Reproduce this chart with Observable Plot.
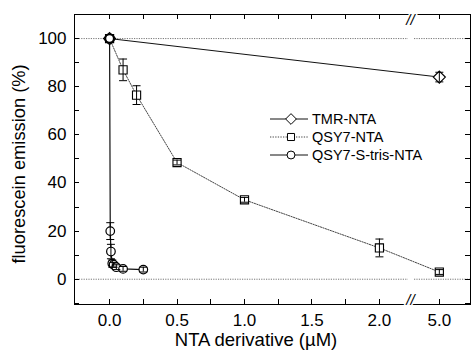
<!DOCTYPE html>
<html>
<head>
<meta charset="utf-8">
<script src="https://cdn.jsdelivr.net/npm/d3@7"></script>
<script src="https://cdn.jsdelivr.net/npm/@observablehq/plot@0.6"></script>
<style>
  html, body { margin: 0; padding: 0; background: #fff; }
  #chart { position: relative; width: 471px; height: 352px; }
  #chart svg { font-family: "Liberation Sans", Arial, sans-serif; }
</style>
</head>
<body>
<div id="chart"></div>
<script>
// ---- data ----
const seriesNames = ["TMR-NTA", "QSY7-NTA", "QSY7-S-tris-NTA"];

const tmrX = [0, 5.0];
const tmrY = [100, 84];
const tmrErr = [0, 2];

const qsyX = [0, 0.1, 0.2, 0.5, 1.0, 2.0, 5.0];
const qsyY = [100, 87, 76.5, 48.5, 33, 13, 3];
const qsyErr = [0, 4.5, 3.9, 1, 1, 3.7, 1];

const trisX = [0, 0.005, 0.01, 0.02, 0.03, 0.05, 0.1, 0.25];
const trisY = [100, 20, 11.5, 6.5, 6, 5, 4.3, 4];
const trisErr = [0, 3.5, 3, 1.5, 1, 1, 1, 1];

const xTickValues = [0, 0.5, 1.0, 1.5, 2.0, 5.0];
const xMinorTicks = [0, 0.25, 0.5, 0.75, 1.0, 1.25, 1.5, 1.75, 2.0, 5.0];
const yTickValues = [0, 20, 40, 60, 80, 100];
const yMinorTicks = [-10, 0, 10, 20, 30, 40, 50, 60, 70, 80, 90, 100];
const refLines = [0, 100];

// broken x axis: values above the break are shifted next to 2.0
const breakAt = 2.23;
const brk = v => v > 3 ? v - 5 + 2.444 : v;
const unbrk = v => v > breakAt ? v - 2.444 + 5 : v;

const mk = (xs, ys, es, name) => xs.map((x, i) => ({x, y: ys[i], e: es[i], name}));
const tmr = mk(tmrX, tmrY, tmrErr, seriesNames[0]);
const qsy = mk(qsyX, qsyY, qsyErr, seriesNames[1]);
const tris = mk(trisX, trisY, trisErr, seriesNames[2]);

const capSymbol = { draw(ctx) { ctx.moveTo(-4, 0); ctx.lineTo(4, 0); } };
const errMarks = (data) => [
  Plot.ruleX(data.filter(d => d.e > 0), {x: d => brk(d.x), y1: d => d.y - d.e, y2: d => d.y + d.e, stroke: "#000", strokeWidth: 1}),
  Plot.dot(data.filter(d => d.e > 0), {x: d => brk(d.x), y: d => d.y - d.e, symbol: capSymbol, stroke: "#000", fill: "none", strokeWidth: 1}),
  Plot.dot(data.filter(d => d.e > 0), {x: d => brk(d.x), y: d => d.y + d.e, symbol: capSymbol, stroke: "#000", fill: "none", strokeWidth: 1})
];

const fmt = v => d3.format(".1f")(v);

const plot = Plot.plot({
  width: 471,
  height: 352,
  marginLeft: 74,
  marginRight: 1,
  marginTop: 14,
  marginBottom: 48,
  style: {fontFamily: "Liberation Sans, Arial, sans-serif", fontSize: "17px", background: "white"},
  x: {domain: [-0.26, 2.675], axis: null},
  y: {domain: [-10.5, 110], axis: null},
  marks: [
    Plot.ruleY(refLines, {x1: -0.26, x2: 2.215, stroke: "#777", strokeDasharray: "1.2,1.2", strokeWidth: 1}),
    Plot.ruleY(refLines, {x1: 2.26, x2: 2.675, stroke: "#777", strokeDasharray: "1.2,1.2", strokeWidth: 1}),
    Plot.line(tmr, {x: d => brk(d.x), y: "y", stroke: "#111", strokeWidth: 1}),
    Plot.line(qsy, {x: d => brk(d.x), y: "y", stroke: "#444", strokeWidth: 1, strokeDasharray: "1.3,1.3"}),
    Plot.line(tris, {x: d => brk(d.x), y: "y", stroke: "#111", strokeWidth: 1.2}),
    Plot.dot(tmr, {x: d => brk(d.x), y: "y", symbol: "diamond2", r: 5.4, fill: "white", stroke: "#000", strokeWidth: 1.2}),
    Plot.dot(qsy, {x: d => brk(d.x), y: "y", symbol: "square", r: 4.6, fill: "white", stroke: "#000", strokeWidth: 1.1}),
    Plot.dot(tris, {x: d => brk(d.x), y: "y", symbol: "circle", r: 4.3, fill: "white", stroke: "#000", strokeWidth: 1.2}),
    Plot.dot(tris.slice(0, 1), {x: d => brk(d.x), y: "y", symbol: "circle", r: 4.3, fill: "none", stroke: "#000", strokeWidth: 2}),
    ...errMarks(tmr), ...errMarks(qsy), ...errMarks(tris),
    Plot.frame({stroke: "#000", strokeWidth: 1}),
    Plot.axisX(xTickValues.map(brk), {anchor: "bottom", tickSize: 0, tickPadding: 9, fontSize: 17, fill: "#000",
      tickFormat: v => fmt(unbrk(v)), label: null}),
    Plot.axisY(yTickValues, {anchor: "left", tickSize: 0, tickPadding: 8, fontSize: 17, fill: "#000", label: null}),
    Plot.text(["//"], {x: breakAt, frameAnchor: "top", fontSize: 15, fontStyle: "italic", fill: "#000", stroke: "white", strokeWidth: 3, paintOrder: "stroke"}),
    Plot.text(["//"], {x: breakAt, frameAnchor: "bottom", fontSize: 15, fontStyle: "italic", fill: "#000", stroke: "white", strokeWidth: 3, paintOrder: "stroke"})
  ]
});

const chart = document.getElementById("chart");
chart.appendChild(plot);

const svg = d3.select(plot);

// inward ticks on all four sides, positioned through Plot's own scales
const xScale = plot.scale("x"), yScale = plot.scale("y");
const [frameL, frameR] = xScale.range;
const [frameB, frameT] = yScale.range;
const tk = svg.append("g").attr("stroke", "#000").attr("stroke-width", 1).attr("shape-rendering", "crispEdges");
xMinorTicks.forEach(v => {
  const px = Math.round(xScale.apply(brk(v))) + 0.5;
  tk.append("line").attr("x1", px).attr("x2", px).attr("y1", frameB).attr("y2", frameB - 5);
  tk.append("line").attr("x1", px).attr("x2", px).attr("y1", frameT).attr("y2", frameT + 5);
});
yMinorTicks.forEach(v => {
  const py = Math.round(yScale.apply(v)) + 0.5;
  tk.append("line").attr("x1", frameL).attr("x2", frameL + 5).attr("y1", py).attr("y2", py);
  tk.append("line").attr("x1", frameR).attr("x2", frameR - 5).attr("y1", py).attr("y2", py);
});

// axis titles
svg.append("text").attr("x", 256).attr("y", 346).attr("text-anchor", "middle")
  .attr("font-size", 18.5).attr("fill", "#000").text("NTA derivative (µM)");
svg.append("text").attr("transform", "translate(25,164) rotate(-90)").attr("text-anchor", "middle")
  .attr("font-size", 18.3).attr("fill", "#000").text("fluorescein emission (%)");

// legend
const legendY = [119, 137, 155];
const legendSym = [d3.symbolDiamond2, d3.symbolSquare, d3.symbolCircle];
const legendSize = [Math.PI * 5.4 * 5.4 * 0.8, Math.PI * 4.6 * 4.6 * 0.75, Math.PI * 4.3 * 4.3 * 0.85];
const legendDash = [null, "1.3,1.3", null];
seriesNames.forEach((name, i) => {
  const g = svg.append("g").attr("transform", `translate(0,${legendY[i]})`);
  g.append("line").attr("x1", 270).attr("x2", 308).attr("y1", 0).attr("y2", 0)
    .attr("stroke", i === 1 ? "#444" : "#111").attr("stroke-dasharray", legendDash[i]);
  g.append("path").attr("transform", "translate(291,0)").attr("d", d3.symbol(legendSym[i], legendSize[i])())
    .attr("fill", "white").attr("stroke", "#000");
  g.append("text").attr("x", 312).attr("y", 5).attr("text-anchor", "start")
    .attr("font-size", 14.5).attr("fill", "#000").text(name);
});
</script>
</body>
</html>
